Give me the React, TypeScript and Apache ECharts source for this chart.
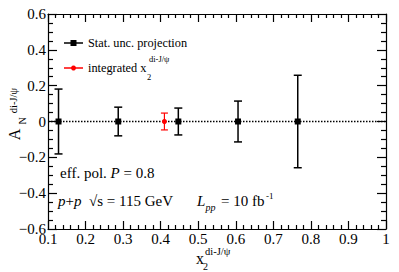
import React, { useEffect, useRef } from "react";
import * as echarts from "echarts";

// x2 positions of the projected points
const projX = [0.128, 0.287, 0.447, 0.606, 0.765];
const projY = [0, 0, 0, 0, 0];
const projErr = [0.181, 0.08, 0.075, 0.114, 0.258];

// integrated point
const intX = [0.41];
const intY = [0];
const intErr = [0.047];

const xTicks = { min: 0.1, max: 1, interval: 0.1 };
const yTicks = { min: -0.6, max: 0.6, interval: 0.2 };

const FONT = "'Liberation Serif', 'Times New Roman', serif";

function errorSeries(xs: number[], ys: number[], es: number[], color: string, kind: "rect" | "circle", cap: number, lw: number) {
  return {
    type: "custom",
    xAxisIndex: 0,
    yAxisIndex: 0,
    z: 5,
    data: xs.map((x, i) => [x, ys[i], es[i]]),
    encode: { x: 0, y: 1 },
    renderItem: (params: any, api: any) => {
      const x = api.value(0);
      const y = api.value(1);
      const e = api.value(2);
      const top = api.coord([x, y + e]);
      const bot = api.coord([x, y - e]);
      const c = api.coord([x, y]);
      const st = { stroke: color, lineWidth: lw };
      const children: any[] = [
        { type: "line", shape: { x1: top[0], y1: top[1], x2: bot[0], y2: bot[1] }, style: st },
        { type: "line", shape: { x1: top[0] - cap / 2, y1: top[1], x2: top[0] + cap / 2, y2: top[1] }, style: st },
        { type: "line", shape: { x1: bot[0] - cap / 2, y1: bot[1], x2: bot[0] + cap / 2, y2: bot[1] }, style: st },
      ];
      if (kind === "rect") {
        children.push({ type: "rect", shape: { x: c[0] - 3, y: c[1] - 3, width: 6, height: 6 }, style: { fill: color } });
      } else {
        children.push({ type: "circle", shape: { cx: c[0], cy: c[1], r: 2.5 }, style: { fill: color } });
      }
      return { type: "group", children };
    },
  };
}

export default function App() {
  const ref = useRef<HTMLDivElement>(null);
  useEffect(() => {
    if (!ref.current) return;
    const chart = echarts.init(ref.current, undefined, { renderer: "svg" });
    const axLine = { color: "#000", width: 1.2 };
    const xFmt = (v: number) => (Math.abs(v - 1) < 1e-9 ? "1" : v.toFixed(1));
    const yFmt = (v: number) =>
      Math.abs(v) < 1e-9 ? "0" : v < 0 ? "\u2212" + (-v).toFixed(1) : v.toFixed(1);
    const xCommon = {
      type: "value",
      min: xTicks.min,
      max: xTicks.max,
      interval: xTicks.interval,
      axisLine: { show: true, onZero: false, lineStyle: axLine },
      axisTick: { show: true, inside: true, length: 8, lineStyle: axLine },
      minorTick: { show: true, splitNumber: 5, length: 4, lineStyle: axLine },
      splitLine: { show: false },
      minorSplitLine: { show: false },
    };
    const yCommon = {
      type: "value",
      min: yTicks.min,
      max: yTicks.max,
      interval: yTicks.interval,
      axisLine: { show: true, onZero: false, lineStyle: axLine },
      axisTick: { show: true, inside: true, length: 9, lineStyle: axLine },
      minorTick: { show: true, splitNumber: 4, length: 5, lineStyle: axLine },
      splitLine: { show: false },
      minorSplitLine: { show: false },
    };
    const txt = (text: string, x: number, y: number, size: number, extra: any = {}) => ({
      type: "text",
      x,
      y,
      z: 100,
      style: {
        text,
        fontFamily: FONT,
        fontSize: size,
        fill: "#000",
        align: "left",
        verticalAlign: "middle",
        ...extra,
      },
    });
    const rot = (text: string, cx: number, cy: number, size: number) => ({
      type: "group",
      x: cx,
      y: cy,
      rotation: Math.PI / 2,
      z: 100,
      children: [
        {
          type: "text",
          x: 0,
          y: 0,
          z: 100,
          style: { text, fontFamily: FONT, fontSize: size, fill: "#000", align: "center", verticalAlign: "middle" },
        },
      ],
    });
    chart.setOption({
      animation: false,
      backgroundColor: "#fff",
      textStyle: { fontFamily: FONT, color: "#000" },
      grid: { left: 48, right: 13, top: 14, bottom: 43 },
      xAxis: [
        {
          ...xCommon,
          position: "bottom",
          axisLabel: { show: true, fontFamily: FONT, fontSize: 15, color: "#000", margin: 2, formatter: xFmt },
        },
        { ...xCommon, position: "top", axisLabel: { show: false } },
      ],
      yAxis: [
        {
          ...yCommon,
          position: "left",
          axisLabel: { show: true, fontFamily: FONT, fontSize: 15, color: "#000", margin: 2, formatter: yFmt },
        },
        { ...yCommon, position: "right", axisLabel: { show: false } },
      ],
      series: [
        {
          type: "line",
          xAxisIndex: 0,
          yAxisIndex: 0,
          data: [
            [xTicks.min, 0],
            [xTicks.max, 0],
          ],
          symbol: "none",
          z: 2,
          lineStyle: { color: "#000", width: 1.5, type: [1.5, 1.5] },
        },
        errorSeries(projX, projY, projErr, "#000", "rect", 8, 1.5),
        errorSeries(intX, intY, intErr, "#ff0000", "circle", 7, 1.2),
      ],
      graphic: [
        { type: "line", z: 100, shape: { x1: 64, y1: 43, x2: 83, y2: 43 }, style: { stroke: "#000", lineWidth: 1.5 } },
        { type: "rect", z: 100, shape: { x: 70.5, y: 40, width: 6, height: 6 }, style: { fill: "#000" } },
        txt("Stat. unc. projection", 88, 43, 12.3),
        { type: "line", z: 100, shape: { x1: 64, y1: 68, x2: 83, y2: 68 }, style: { stroke: "#ff0000", lineWidth: 1.5 } },
        { type: "circle", z: 100, shape: { cx: 73.5, cy: 68, r: 2.5 }, style: { fill: "#ff0000" } },
        txt("integrated x", 88, 68, 12.3),
        txt("2", 147, 77, 8.5),
        txt("di-J/\u03c8", 149, 59, 8.5),
        txt("{n|eff. pol. }{i|P}{n| = 0.8}", 60, 173, 15, {
          rich: {
            n: { fontFamily: FONT, fontSize: 15, fill: "#000" },
            i: { fontFamily: FONT, fontSize: 15, fontStyle: "italic", fill: "#000" },
          },
        }),
        txt("{i|p}{n|+}{i|p}{n|  \u221as = 115 GeV}", 58, 201, 15, {
          rich: {
            n: { fontFamily: FONT, fontSize: 15, fill: "#000" },
            i: { fontFamily: FONT, fontSize: 15, fontStyle: "italic", fill: "#000" },
          },
        }),
        txt("L", 197, 201, 15, { fontStyle: "italic" }),
        txt("pp", 205.5, 207, 10, { fontStyle: "italic" }),
        txt("= 10 fb", 221, 201, 15),
        txt("-1", 266, 196, 9),
        // x-axis title
        txt("x", 196, 258, 16),
        txt("2", 203, 266, 10),
        txt("di-J/\u03c8", 205, 251, 10.5),
        // y-axis title (rotated)
        rot("A", 14.5, 134.5, 16),
        rot("N", 22.5, 121, 10),
        rot("di-J/\u03c8", 13.5, 100.5, 10.5),
      ],
    });
    return () => chart.dispose();
  }, []);
  return <div ref={ref} style={{ position: "fixed", left: 0, top: 0, width: 399, height: 272 }} />;
}
